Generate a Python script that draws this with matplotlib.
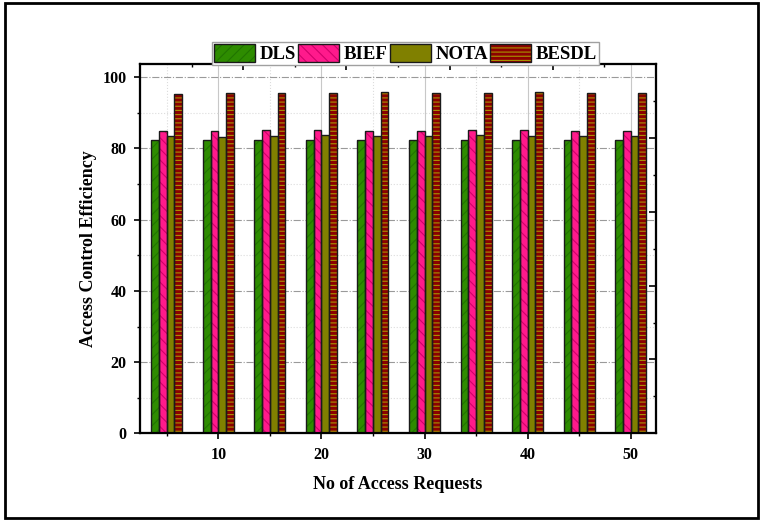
import numpy as np
import matplotlib
matplotlib.use('Agg')
import matplotlib.pyplot as plt
from matplotlib.patches import Patch, Rectangle
from matplotlib.legend_handler import HandlerTuple

# values
requests = [5, 10, 15, 20, 25, 30, 35, 40, 45, 50]
dls = [82.3, 82.5, 82.5, 82.5, 82.3, 82.5, 82.5, 82.5, 82.3, 82.5]
bief = [85.0, 85.0, 85.3, 85.3, 85.0, 85.0, 85.3, 85.3, 85.0, 85.0]
nota = [83.4, 83.3, 83.6, 83.7, 83.4, 83.6, 83.7, 83.4, 83.4, 83.6]
besdl = [95.4, 95.7, 95.7, 95.7, 95.9, 95.7, 95.7, 96.0, 95.6, 95.7]

names = ['DLS', 'BIEF', 'NOTA', 'BESDL']
faces = ['#2e8c00', '#ff1a8c', '#808000', '#8b0000']
hatch_cols = ['#217400', '#d0006a', '#808000', '#a89400']
hatches = ['///', '\\\\\\', '', '----']

plt.rcParams['font.family'] = ['Liberation Serif', 'DejaVu Serif']
plt.rcParams['font.weight'] = 'bold'
plt.rcParams['hatch.linewidth'] = 0.8

fig = plt.figure(figsize=(7.61, 5.20), dpi=100)
ax = fig.add_axes([0.184, 0.1667, 0.678, 0.710])

w = 0.75
x = np.array(requests)
handles = []
for i, vals in enumerate([dls, bief, nota, besdl]):
    pos = x + (i - 1.5) * w
    ax.bar(pos, vals, w, color=faces[i], edgecolor=hatch_cols[i],
           hatch=hatches[i], linewidth=0, zorder=3)
    ax.bar(pos, vals, w, fill=False, edgecolor='#1a1a1a', linewidth=1.0, zorder=4)
    handles.append((Patch(facecolor=faces[i], edgecolor=hatch_cols[i], hatch=hatches[i], linewidth=0),
                    Patch(fill=False, edgecolor='#1a1a1a', linewidth=1.0)))

ax.set_xlim(2.41, 52.45)
ax.set_ylim(0, 103.7)
ax.set_xticks([10, 20, 30, 40, 50])
ax.set_xticks([5, 15, 25, 35, 45], minor=True)
ax.set_yticks([0, 20, 40, 60, 80, 100])
ax.set_yticks([10, 30, 50, 70, 90], minor=True)
ax.tick_params(which='major', direction='out', length=4.5, width=1.2, labelsize=11.5, pad=5)
ax.tick_params(which='minor', direction='out', length=2.5, width=1.0)

ax.grid(which='major', axis='y', color='#9a9a9a', linestyle='-.', linewidth=0.8)
ax.grid(which='minor', axis='y', color='#dcdcdc', linestyle=':', linewidth=0.8)
ax.grid(which='major', axis='x', color='#c8c8c8', linestyle='-', linewidth=0.8)
ax.grid(which='minor', axis='x', color='#dcdcdc', linestyle=':', linewidth=0.8)
ax.set_axisbelow(True)
for s in ax.spines.values():
    s.set_linewidth(1.5)

ax.set_xlabel('No of Access Requests', fontsize=13, fontweight='bold', labelpad=10)
ax.set_ylabel('Access Control Efficiency', fontsize=13, fontweight='bold', labelpad=4)

# mirrored top and right axes with their own scales
top = ax.twiny()
top.set_xlim(0, 50)
top.set_xticks([10, 20, 30, 40, 50])
top.set_xticks([5, 15, 25, 35, 45], minor=True)
top.tick_params(axis='x', which='major', direction='in', length=4.5, width=1.2, labeltop=False, top=True)
top.tick_params(axis='x', which='minor', direction='in', length=2.5, width=1.0, top=True)

right = ax.twinx()
right.set_ylim(0, 100)
right.set_yticks([20, 40, 60, 80, 100])
right.set_yticks([10, 30, 50, 70, 90], minor=True)
right.tick_params(axis='y', which='major', direction='in', length=5, width=1.2, labelright=False, right=True)
right.tick_params(axis='y', which='minor', direction='in', length=2.5, width=1.0, right=True)
for a in (top, right):
    for s in a.spines.values():
        s.set_linewidth(1.5)

leg = fig.legend(handles, names, loc='lower center', bbox_to_anchor=(0.533, 0.875),
                 ncol=4, prop={'weight': 'bold', 'size': 13.5},
                 handler_map={tuple: HandlerTuple(ndivide=1, pad=0)},
                 handlelength=2.2, handleheight=1.1, handletextpad=0.25,
                 columnspacing=0.1, borderpad=0.1, borderaxespad=0,
                 fancybox=False, framealpha=1, edgecolor='#a0a0a0')
leg.get_frame().set_linewidth(1.0)

# outer frame round the whole picture
fig.add_artist(Rectangle((0.0066, 0.004), 0.9895, 0.99, transform=fig.transFigure,
                         fill=False, edgecolor='black', linewidth=2))

fig.savefig('out.png', dpi=100)
